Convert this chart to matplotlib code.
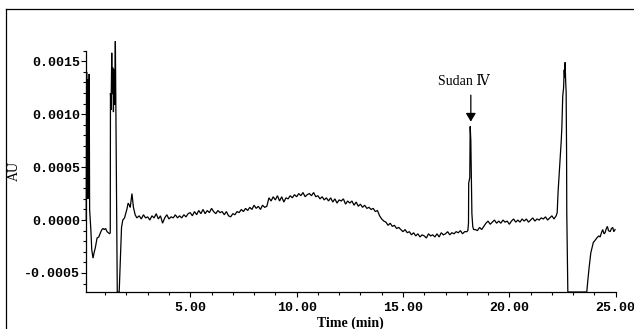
import numpy as np
import matplotlib
matplotlib.use("Agg")
import matplotlib.pyplot as plt
from matplotlib.ticker import MultipleLocator, FuncFormatter
from matplotlib.lines import Line2D

plt.rcParams['axes.unicode_minus'] = False

# ---- data (AU values in units of 1e-4) ----
SCALE = 1e-4
AU_FLOOR = -6.8  # trace runs below the axis floor here

early_t = [0.11, 0.13, 0.15, 0.17, 0.19, 0.21, 0.23, 0.25, 0.27, 0.29, 0.33, 0.37,
           0.43, 0.49, 0.54, 0.62, 0.70, 0.74, 0.80, 0.85, 0.90, 0.96, 1.02, 1.09,
           1.15, 1.21, 1.24, 1.25, 1.28, 1.31, 1.33, 1.36, 1.39, 1.42, 1.45, 1.48,
           1.52, 1.57, 1.66, 1.71, 1.77, 1.83, 1.91, 2.02, 2.08, 2.14, 2.18, 2.26,
           2.33, 2.41, 2.49]
early_au = [0.0, 14.0, 6.5, 13.3, 2.0, 13.0, 3.5, 13.8, 1.0, 0.3, -1.0, -2.8,
            -3.6, -3.0, -2.6, -1.7, -1.6, -1.4, -1.1, -0.9, -0.8, -0.9, -0.8, -1.1,
            -1.2, -1.3, -1.2, 12.0, 10.4, 15.8, 11.9, 14.4, 10.2, 14.2, 10.9, 16.9,
            6.6, AU_FLOOR, AU_FLOOR, -4.1, -0.7, 0.0, 0.2, 1.0, 1.6, 1.4, 1.2, 2.5,
            1.2, 0.5, 0.2]

# baseline sampled every 0.1 min from 2.6 to 18.0
base1_start, base1_step = 2.6, 0.1
base1_au = [0.4, 0.1, 0.5, 0.2, 0.3, 0.0, 0.4, 0.2, 0.6, 0.1,
            0.4, -0.3, 0.2, 0.5, 0.1, 0.3, 0.2, 0.5, 0.2, 0.4,
            0.2, 0.5, 0.3, 0.6, 0.7, 0.4, 0.8, 0.5, 0.9, 0.6,
            1.0, 0.6, 0.9, 0.7, 1.1, 0.8, 0.6, 0.9, 0.7, 0.8,
            0.5, 0.8, 0.4, 0.3, 0.6, 0.5, 0.8, 0.7, 1.0, 0.8,
            1.1, 0.9, 1.2, 1.0, 1.4, 1.1, 1.3, 1.0, 1.4, 1.2,
            1.3, 2.1, 1.8, 2.2, 1.9, 2.3, 1.8, 2.2, 1.7, 2.1,
            2.0, 2.3, 2.1, 2.4, 2.2, 2.5, 2.3, 2.6, 2.2, 2.4,
            2.5, 2.3, 2.6, 2.2, 2.3, 2.0, 2.2, 1.9, 2.1, 1.8,
            2.1, 1.7, 2.0, 1.6, 1.9, 1.8, 2.0, 1.5, 1.8, 1.6,
            1.8, 1.4, 1.7, 1.3, 1.5, 1.2, 1.4, 1.1, 1.2, 1.0,
            1.1, 0.8, 0.9, 0.4, 0.1, -0.1, -0.2, -0.5, -0.3, -0.6,
            -0.5, -0.8, -0.7, -0.9, -1.1, -0.9, -1.2, -1.1, -1.4, -1.2,
            -1.5, -1.3, -1.6, -1.4, -1.5, -1.7, -1.3, -1.5, -1.4, -1.6,
            -1.3, -1.6, -1.2, -1.4, -1.3, -1.1, -1.4, -1.2, -1.3, -1.1,
            -1.2, -1.0, -1.3, -1.1, -1.1]

sudan_t = [18.05, 18.08, 18.09, 18.14, 18.16, 18.19, 18.22, 18.24, 18.28, 18.32]
sudan_au = [-1.0, -0.3, 3.5, 4.0, 8.85, 7.5, 3.0, 0.6, -0.6, -0.9]

# baseline sampled every 0.1 min from 18.4 to 22.2
base2_start, base2_step = 18.4, 0.1
base2_au = [-0.9, -1.0, -0.7, -0.9, -0.6, -0.3, -0.1, -0.4, -0.2, 0.0,
            -0.3, -0.1, -0.3, 0.0, -0.2, -0.1, -0.4, -0.1, 0.1, -0.2,
            0.0, -0.2, 0.1, -0.1, 0.1, -0.2, 0.0, 0.2, -0.1, 0.1,
            0.0, 0.2, 0.1, 0.3, 0.0, 0.2, 0.4, 0.1, 0.4]

late_t = [22.25, 22.29, 22.35, 22.39, 22.44, 22.47, 22.51, 22.55, 22.58, 22.60,
          22.62, 22.65, 22.67, 22.69, 22.70, 22.75, 23.64, 23.69, 23.75, 23.83,
          23.95, 24.00, 24.11, 24.20, 24.27, 24.33, 24.39, 24.45, 24.50, 24.56,
          24.61, 24.66, 24.74, 24.80, 24.86, 24.91, 24.97]
late_au = [0.7, 2.6, 4.5, 5.7, 7.5, 8.8, 11.7, 12.5, 14.2, 13.5,
           14.9, 13.0, 12.1, 6.6, 0.7, AU_FLOOR, AU_FLOOR, -5.7, -4.5, -3.1,
           -2.1, -2.0, -1.7, -1.5, -1.6, -1.2, -0.9, -1.3, -1.2, -0.8,
           -0.6, -1.0, -1.1, -0.8, -0.7, -1.1, -0.9]

x_major = [5, 10, 15, 20, 25]
y_major = [-0.0005, 0.0, 0.0005, 0.0010, 0.0015]
annot_label = "Sudan Ⅳ"

# ---- assemble ----
base1_t = base1_start + base1_step * np.arange(len(base1_au))
base2_t = base2_start + base2_step * np.arange(len(base2_au))
t = np.concatenate([early_t, base1_t, sudan_t, base2_t, late_t])
au = np.concatenate([early_au, base1_au, sudan_au, base2_au, late_au]) * SCALE

W, H = 634, 329
fig = plt.figure(figsize=(W / 100, H / 100), dpi=100)
fig.patch.set_facecolor('white')

ax = fig.add_axes([86 / W, 1 - 292 / H, (615.7 - 86) / W, (292 - 50.7) / H])
ax.plot(t, au, color='black', lw=0.9, clip_on=False, solid_joinstyle='miter')

ax.set_xlim(0.1, 25.0)
ax.set_ylim(AU_FLOOR * SCALE, 0.0016)

for s in ['top', 'right']:
    ax.spines[s].set_visible(False)
for s in ['left', 'bottom']:
    ax.spines[s].set_linewidth(0.9)
    ax.spines[s].set_color('black')

ax.set_xticks(x_major)
ax.xaxis.set_minor_locator(MultipleLocator(1))
ax.set_yticks(y_major)
ax.yaxis.set_minor_locator(MultipleLocator(0.0001))
ax.xaxis.set_major_formatter(FuncFormatter(lambda v, p: f"{v:.2f}"))
ax.yaxis.set_major_formatter(FuncFormatter(lambda v, p: f"{v:.4f}"))

tick_font = dict(family='Liberation Mono', weight='bold', size=9.5)
ax.tick_params(axis='both', which='major', direction='out', length=3.8, width=0.8, color='black')
ax.tick_params(axis='both', which='minor', direction='out', length=2.4, width=0.8, color='black')
ax.tick_params(axis='x', which='major', pad=3.5)
ax.tick_params(axis='y', which='major', pad=0.5)
for lab in ax.get_xticklabels() + ax.get_yticklabels():
    lab.set_fontfamily('Liberation Mono')
    lab.set_fontweight('bold')
    lab.set_fontsize(9.5)

ax.set_xlabel("Time (min)", family='Liberation Serif', weight='bold', size=10, labelpad=2)
ax.set_ylabel("AU", family='Liberation Serif', size=10, labelpad=2)

# annotation arrow and label
ax.annotate('', xy=(18.19, 9.3e-4), xytext=(18.19, 11.8e-4),
            arrowprops=dict(arrowstyle='-|>,head_length=0.5,head_width=0.3',
                            color='black', lw=0.9, mutation_scale=10,
                            shrinkA=0, shrinkB=0))
ax.text(17.84, 13.1e-4, annot_label, ha='center', va='center', size=10,
        family=['Liberation Serif', 'DejaVu Serif', 'Noto Sans CJK SC'])

# outer frame of the figure
fx, fy = 5.5 / W, 1 - 8.5 / H
fig.add_artist(Line2D([fx, fx], [0, fy], transform=fig.transFigure, color='black', lw=0.9))
fig.add_artist(Line2D([fx, 1], [fy, fy], transform=fig.transFigure, color='black', lw=0.9))

fig.savefig('out.png', dpi=100)
